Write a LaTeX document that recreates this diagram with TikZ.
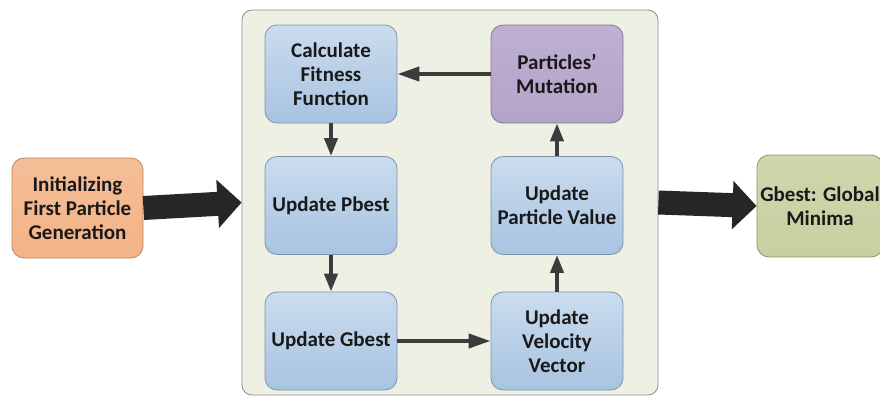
\documentclass[tikz,border=0pt]{standalone}
\usepackage{fontspec}
\setmainfont{Carlito}
\usepackage{tikz}
\usetikzlibrary{arrows.meta}

\definecolor{boxblue}{HTML}{BDD3EA}
\definecolor{boxbluedk}{HTML}{A8C3E1}
\definecolor{edgeblue}{HTML}{7D93AE}
\definecolor{orangefill}{HTML}{F3B386}
\definecolor{orangeedge}{HTML}{B98660}
\definecolor{purplefill}{HTML}{B3A3C9}
\definecolor{purpleedge}{HTML}{84749C}
\definecolor{greenfill}{HTML}{C6D09F}
\definecolor{greenedge}{HTML}{8C9868}
\definecolor{panelfill}{HTML}{EEF0E3}
\definecolor{arrowgray}{HTML}{3C3C3C}

\begin{document}
\begin{tikzpicture}[x=1pt,y=1pt]
\tikzstyle{every node}+=[font=\fontsize{21}{24}\selectfont\bfseries, text=black!90, align=center]
\tikzstyle{stage}=[draw=edgeblue, line width=0.8pt, rounded corners=12pt, minimum width=132pt, minimum height=98pt, inner sep=0pt, top color=boxblue!80!white, bottom color=boxbluedk]
\tikzstyle{flow}=[draw=arrowgray, line width=4pt, -{Triangle[length=22pt,width=14pt]}]
\tikzstyle{bigflow}=[draw=black!85, line width=24pt, -{Triangle[length=24pt,width=47pt]}]
\useasboundingbox (0,0) rectangle (880,-397);
\node[draw=black!45, line width=0.8pt, fill=panelfill, rounded corners=10pt, minimum width=416pt, minimum height=385pt, inner sep=0pt] (swarm) at (450,-202.5) {};
\node[stage] (fitness) at (331,-74) {Calculate\\Fitness\\Function};
\node[stage, draw=purpleedge, top color=purplefill!85!white, bottom color=purplefill] (mutation) at (557,-74) {Particles'\\Mutation};
\node[stage] (pbest) at (331,-205.5) {Update Pbest};
\node[stage] (pvalue) at (557,-205.5) {Update\\Particle Value};
\node[stage] (gbest) at (331,-341) {Update Gbest};
\node[stage] (velocity) at (557,-341) {Update\\Velocity\\Vector};
\node[stage, draw=orangeedge, top color=orangefill!85!white, bottom color=orangefill, minimum width=131pt, minimum height=100pt] (init) at (77.5,-208) {Initializing\\First Particle\\Generation};
\node[stage, draw=greenedge, top color=greenfill!85!white, bottom color=greenfill, minimum width=126pt, minimum height=102pt] (globalmin) at (820,-206) {Gbest: Global\\Minima};
\draw[bigflow] (init.east) -- (swarm.west);
\draw[bigflow] (swarm.east) -- (globalmin.west);
\draw[flow] (mutation) -- (fitness);
\draw[flow, -{Triangle[length=18pt,width=13pt]}] (fitness) -- (pbest);
\draw[flow, -{Triangle[length=18pt,width=13pt]}] (pbest) -- (gbest);
\draw[flow] (gbest) -- (velocity);
\draw[flow, -{Triangle[length=18pt,width=13pt]}] (velocity) -- (pvalue);
\draw[flow, -{Triangle[length=18pt,width=13pt]}] (pvalue) -- (mutation);
\end{tikzpicture}
\end{document}
